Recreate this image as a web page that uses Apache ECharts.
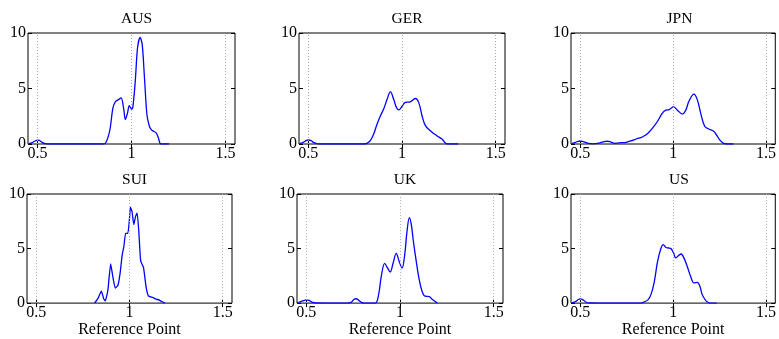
<!DOCTYPE html>
<html><head><meta charset="utf-8">
<script src="https://cdn.jsdelivr.net/npm/echarts@6/dist/echarts.min.js"></script>
<style>html,body{margin:0;padding:0;background:#fff}#c{width:779px;height:339px}</style>
</head><body><div id="c"></div>
<script>
const countries = ['AUS','GER','JPN','SUI','UK','US'];
const xTicks = [0.5, 1, 1.5];
const yTicks = [0, 5, 10];
const xLabel = 'Reference Point';

const AUS = [[0.455,0.03],[0.47,0.1],[0.485,0.25],[0.5,0.35],[0.51,0.33],[0.525,0.15],[0.54,0.03],[0.56,0],[0.7,0],[0.85,0],[0.861,0.05],[0.875,0.6],[0.887,1.44],[0.901,3.24],[0.914,3.8],[0.931,4.0],[0.945,4.15],[0.958,3.24],[0.967,2.2],[0.979,2.8],[0.988,3.45],[1.0,3.15],[1.007,3.3],[1.02,5.65],[1.032,8.65],[1.046,9.6],[1.057,8.95],[1.069,5.95],[1.082,2.64],[1.095,1.6],[1.105,1.3],[1.117,1.15],[1.131,1.0],[1.143,0.55],[1.152,0.05],[1.16,0],[1.2,0]];
const GER = [[0.454,0.05],[0.47,0.12],[0.485,0.28],[0.5,0.36],[0.515,0.3],[0.53,0.12],[0.55,0.02],[0.6,0],[0.8,0],[0.815,0.08],[0.831,0.3],[0.849,0.9],[0.867,1.8],[0.885,2.55],[0.902,3.15],[0.92,4.0],[0.938,4.7],[0.956,4.0],[0.97,3.3],[0.983,3.07],[1.0,3.4],[1.018,3.75],[1.044,3.8],[1.071,4.1],[1.089,3.75],[1.107,2.55],[1.125,1.65],[1.151,1.2],[1.186,0.75],[1.213,0.45],[1.231,0.1],[1.245,0],[1.3,0]];
const JPN = [[0.455,0.03],[0.475,0.15],[0.5,0.27],[0.52,0.2],[0.545,0.05],[0.57,0.02],[0.6,0.08],[0.625,0.2],[0.645,0.25],[0.665,0.18],[0.685,0.06],[0.7,0.08],[0.72,0.12],[0.745,0.15],[0.766,0.25],[0.786,0.35],[0.801,0.45],[0.82,0.55],[0.836,0.65],[0.863,0.95],[0.89,1.45],[0.916,2.05],[0.943,2.8],[0.961,3.05],[0.979,3.1],[1.002,3.35],[1.023,3.05],[1.05,2.7],[1.068,3.05],[1.085,3.85],[1.112,4.5],[1.13,4.0],[1.148,2.8],[1.17,1.6],[1.192,1.35],[1.218,1.15],[1.236,0.75],[1.254,0.3],[1.272,0.05],[1.29,0],[1.325,0]];
const SUI = [[0.813,0],[0.831,0.43],[0.849,1.1],[0.861,0.43],[0.87,0.2],[0.884,1.18],[0.899,3.6],[0.911,2.37],[0.924,1.38],[0.938,1.63],[0.95,2.8],[0.961,4.45],[0.97,5.2],[0.979,6.4],[0.991,6.4],[1.0,7.75],[1.005,8.8],[1.014,8.35],[1.023,7.2],[1.032,7.9],[1.041,8.25],[1.05,6.55],[1.06,3.87],[1.075,3.27],[1.089,1.48],[1.101,0.67],[1.124,0.52],[1.142,0.37],[1.16,0.28],[1.178,0.1],[1.19,0]];
const UK = [[0.455,0.03],[0.48,0.2],[0.5,0.3],[0.515,0.25],[0.53,0.08],[0.55,0.01],[0.6,0],[0.72,0],[0.74,0.08],[0.755,0.35],[0.766,0.4],[0.78,0.25],[0.795,0.05],[0.81,0],[0.868,0],[0.886,0.8],[0.9,2.45],[0.918,3.65],[0.934,3.2],[0.948,2.85],[0.963,3.65],[0.98,4.55],[0.996,3.8],[1.011,3.2],[1.025,4.4],[1.037,6.5],[1.05,7.83],[1.06,7.23],[1.072,5.6],[1.087,3.8],[1.101,2.3],[1.117,1.13],[1.134,0.63],[1.156,0.6],[1.17,0.38],[1.188,0.15],[1.2,0]];
const US = [[0.455,0.03],[0.475,0.15],[0.49,0.33],[0.5,0.38],[0.515,0.3],[0.53,0.1],[0.55,0.01],[0.6,0],[0.82,0],[0.836,0.05],[0.863,0.27],[0.881,0.8],[0.899,2.0],[0.916,3.8],[0.934,5.0],[0.947,5.36],[0.961,5.1],[0.975,5.05],[0.988,5.0],[1.002,4.6],[1.014,4.15],[1.032,4.4],[1.043,4.5],[1.059,4.1],[1.076,3.35],[1.094,2.45],[1.112,1.86],[1.13,1.9],[1.144,1.55],[1.156,0.8],[1.171,0.35],[1.183,0.12],[1.2,0],[1.235,0]];

const seriesData = {AUS, GER, JPN, SUI, UK, US};
const smoothness = {AUS:0.3, GER:0.4, JPN:0.4, SUI:0.15, UK:0.35, US:0.35};

const layout = [
  {left:28, top:33, width:207, height:111},
  {left:299, top:33, width:206, height:111},
  {left:571, top:33, width:207, height:111},
  {left:27, top:194, width:205, height:111},
  {left:297, top:194, width:206, height:111},
  {left:571, top:194, width:206, height:111}
];
const titleTop = [6, 6, 6, 167, 167, 167];
const FONT = '"Liberation Serif", "Times New Roman", serif';
const FS = 16;

const grid=[], xAxis=[], yAxis=[], series=[], title=[];
countries.forEach((c, i) => {
  const L = layout[i];
  grid.push({left:L.left, top:L.top, width:L.width, height:L.height, show:true, borderColor:'#000', borderWidth:1, containLabel:false});
  title.push({text:c, left:L.left + L.width/2, top:titleTop[i], textAlign:'center',
    textStyle:{fontFamily:FONT, fontSize:15.5, fontWeight:'normal', color:'#000'}});
  const bottomRow = i >= 3;
  xAxis.push({type:'value', gridIndex:i, min:0.45, max:1.55, position:'bottom',
    name: bottomRow ? xLabel : '', nameLocation:'middle', nameGap:16,
    nameTextStyle:{fontFamily:FONT, fontSize:FS, color:'#000', verticalAlign:'top'},
    axisLine:{show:false}, splitLine:{show:false},
    axisTick:{show:true, inside:true, length:4, customValues:xTicks, lineStyle:{color:'#000'}},
    axisLabel:{show:true, customValues:xTicks, margin:2, fontFamily:FONT, fontSize:FS, color:'#000'}});
  xAxis.push({type:'value', gridIndex:i, min:0.45, max:1.55, position:'top',
    axisLine:{show:false}, splitLine:{show:false},
    axisTick:{show:true, inside:true, length:4, customValues:xTicks, lineStyle:{color:'#000'}},
    axisLabel:{show:false}});
  yAxis.push({type:'value', gridIndex:i, min:0, max:10, interval:5, position:'left',
    axisLine:{show:false}, splitLine:{show:false},
    axisTick:{show:true, inside:true, length:4, lineStyle:{color:'#000'}},
    axisLabel:{show:true, margin:2, fontFamily:FONT, fontSize:FS, color:'#000'}});
  yAxis.push({type:'value', gridIndex:i, min:0, max:10, interval:5, position:'right',
    axisLine:{show:false}, splitLine:{show:false},
    axisTick:{show:true, inside:true, length:4, lineStyle:{color:'#000'}},
    axisLabel:{show:false}});
  series.push({type:'line', xAxisIndex:2*i, yAxisIndex:2*i, data:seriesData[c],
    smooth:smoothness[c], showSymbol:false, symbol:'none', animation:false,
    lineStyle:{color:'#0000ff', width:1.3}, z:3,
    markLine:{silent:true, symbol:'none', animation:false, label:{show:false},
      lineStyle:{color:'#aaa', type:[1,2], width:1}, emphasis:{disabled:true},
      data: xTicks.map(v => ({xAxis:v}))}});
});

const chart = echarts.init(document.getElementById('c'), null, {renderer:'canvas'});
chart.setOption({animation:false, backgroundColor:'#fff', title, grid, xAxis, yAxis, series});
</script></body></html>
